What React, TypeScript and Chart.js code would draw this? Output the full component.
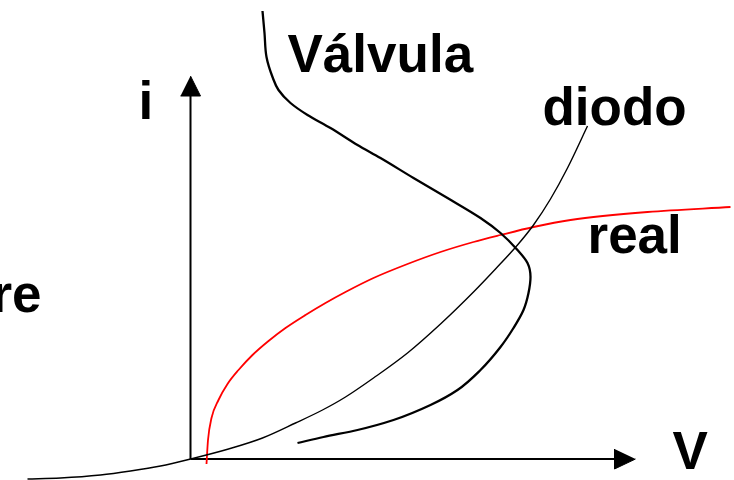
import React, { useEffect, useRef } from "react";
import { Chart, registerables } from "chart.js";

Chart.register(...registerables);

// Curve data (arbitrary units: V horizontally, i vertically, origin at the axes' crossing)
const valvulaV = [72, 74, 76, 82, 88, 100, 117, 140, 167, 190, 223, 257, 290, 310, 327, 337, 340, 338, 333, 323, 310, 290, 267, 240, 203, 167, 133, 107];
const valvulaI = [448, 426, 402, 382, 369, 356, 344, 331, 314, 301, 281, 261, 241, 226, 209, 196, 182, 166, 149, 131, 112, 89, 69, 54, 39, 29, 22, 16];

const diodoV = [-163, -130, -90, -60, -30, 0, 38, 72, 105, 132, 155, 183, 217, 250, 283, 305, 327, 343, 360, 377, 397];
const diodoI = [-20, -19, -16, -12, -7, 0, 10, 21, 36, 49, 62, 81, 106, 135, 167, 190, 214, 234, 260, 291, 333];

const realV = [16, 17.5, 21, 28, 37, 48, 62, 78, 95, 115, 135, 155, 183, 217, 250, 283, 310, 343, 380, 457, 540];
const realI = [-5, 19, 41, 59, 75, 89, 104, 118, 131, 144, 156, 167, 181, 195, 207, 217, 224, 232, 239, 247, 252];

// Axes (shafts and arrowheads)
const iAxisV = [0, 0];
const iAxisI = [0, 363];
const iArrowV = [-10, 10, 0];
const iArrowI = [363, 363, 383];
const vAxisV = [0, 424];
const vAxisI = [0, 0];
const vArrowV = [424, 424, 445];
const vArrowI = [10, -10, 0];

// Labels
const labelTexts = ["Válvula", "i", "diodo", "real", "re", "V"];
const labelV = [97, -52, 352, 397, -149, 482];
const labelI = [387, 340, 334, 206, 147, -10];
const labelAlign = ["left", "left", "left", "left", "right", "left"];

const toPts = (xs: number[], ys: number[]) => xs.map((x, k) => ({ x, y: ys[k] }));

const labelPlugin = {
  id: "labels",
  afterDatasetsDraw(chart: any) {
    const { ctx, scales } = chart;
    ctx.save();
    ctx.fillStyle = "#000";
    ctx.font = 'bold 53px "Liberation Sans", Arial, sans-serif';
    ctx.textBaseline = "alphabetic";
    labelTexts.forEach((t, k) => {
      ctx.textAlign = labelAlign[k];
      ctx.fillText(t, scales.x.getPixelForValue(labelV[k]), scales.y.getPixelForValue(labelI[k]));
    });
    ctx.restore();
  },
};

export default function App() {
  const ref = useRef<HTMLCanvasElement>(null);
  useEffect(() => {
    if (!ref.current) return;
    const line = (xs: number[], ys: number[], color: string, width: number, extra: any = {}) => ({
      data: toPts(xs, ys),
      borderColor: color,
      borderWidth: width,
      pointRadius: 0,
      pointHoverRadius: 0,
      tension: 0.4,
      cubicInterpolationMode: "monotone",
      fill: false,
      ...extra,
    });
    const arrow = (xs: number[], ys: number[]) => ({
      data: toPts(xs, ys),
      borderColor: "#000",
      backgroundColor: "#000",
      borderWidth: 1,
      pointRadius: 0,
      pointHoverRadius: 0,
      tension: 0,
      fill: "shape",
    });
    const chart = new Chart(ref.current, {
      type: "line",
      data: {
        datasets: [
          line(valvulaV, valvulaI, "#000", 2.3, { indexAxis: "y" }),
          line(diodoV, diodoI, "#000", 1.4),
          line(realV, realI, "#ff0000", 1.8),
          line(iAxisV, iAxisI, "#000", 2, { tension: 0, cubicInterpolationMode: "default" }),
          line(vAxisV, vAxisI, "#000", 2, { tension: 0, cubicInterpolationMode: "default" }),
          arrow(iArrowV, iArrowI),
          arrow(vArrowV, vArrowI),
        ] as any,
      },
      options: {
        animation: false,
        responsive: false,
        maintainAspectRatio: false,
        layout: { padding: 0 },
        plugins: { legend: { display: false }, tooltip: { enabled: false } },
        scales: {
          x: { type: "linear", display: false, min: -190.5, max: 543.5 },
          y: { type: "linear", display: false, min: -21, max: 459 },
        },
      },
      plugins: [labelPlugin],
    });
    return () => chart.destroy();
  }, []);
  return (
    <div style={{ position: "fixed", left: 0, top: 0, width: 734, height: 480, background: "#fff" }}>
      <canvas ref={ref} width={734} height={480} style={{ width: 734, height: 480, display: "block" }} />
    </div>
  );
}
